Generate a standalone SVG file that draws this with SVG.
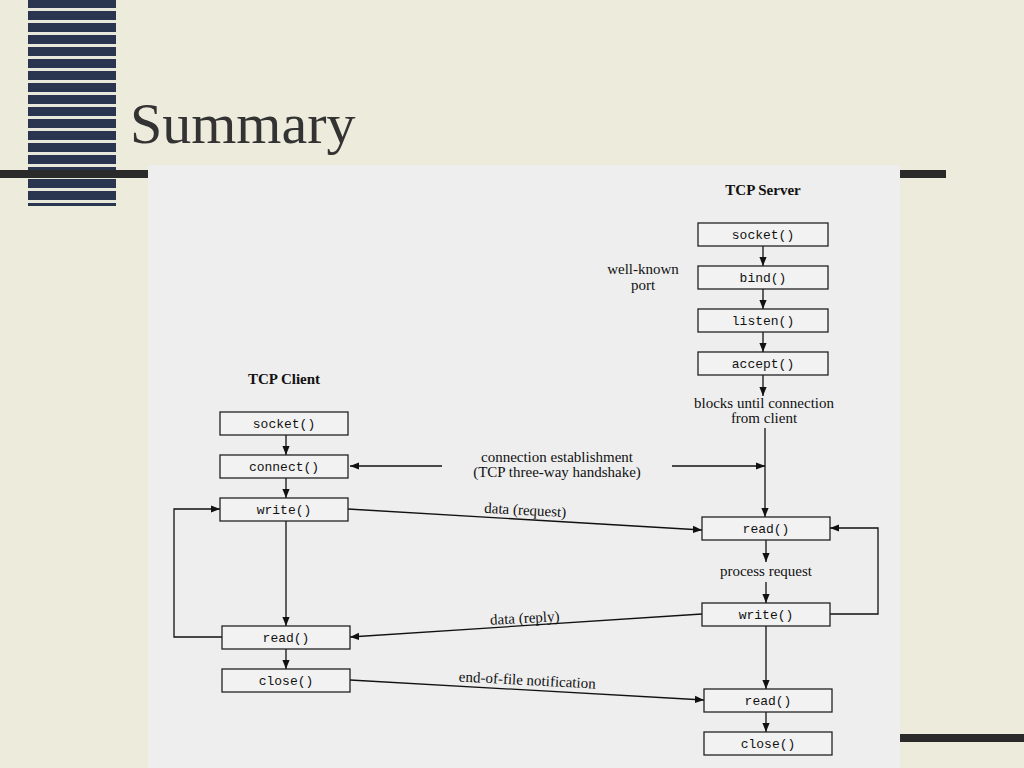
<svg xmlns="http://www.w3.org/2000/svg" width="1024" height="768" viewBox="0 0 1024 768">
<defs>
<marker id="ah" viewBox="0 0 10 10" refX="10" refY="5" markerWidth="7" markerHeight="7" orient="auto-start-reverse"><path d="M0,1 L10,5 L0,9 z" fill="#111"/></marker>
<pattern id="stripes" width="88" height="12" patternUnits="userSpaceOnUse"><rect width="88" height="12" fill="#2a3550"/><rect y="8" width="88" height="3" fill="#e8e8dc"/></pattern>
</defs>
<style>
.box{fill:#f2f2f2;stroke:#222;stroke-width:1.3}
.code{font-family:"Liberation Mono",monospace;font-size:13px;fill:#111;text-anchor:middle}
.lbl{font-family:"Liberation Serif",serif;font-size:15px;fill:#111;text-anchor:middle}
.ln{stroke:#111;stroke-width:1.3;fill:none}
</style>
<rect width="1024" height="768" fill="#ecebdc"/>
<rect x="28" y="0" width="88" height="206" fill="url(#stripes)"/>
<rect x="0" y="170" width="150" height="8" fill="#2a2a2a"/>
<rect x="900" y="170" width="46" height="8" fill="#2a2a2a"/>
<rect x="900" y="734" width="124" height="8" fill="#2a2a2a"/>
<rect x="148" y="165" width="752" height="603" fill="#eeeeee"/>
<text x="130" y="143" font-family="Liberation Serif,serif" font-size="58" fill="#333">Summary</text>
<text x="763" y="195" class="lbl" font-weight="bold" font-size="17">TCP Server</text>
<text x="284" y="384" class="lbl" font-weight="bold" font-size="17">TCP Client</text>
<text x="643" y="274" class="lbl">well-known</text>
<text x="643" y="290" class="lbl">port</text>
<text x="764" y="408" class="lbl">blocks until connection</text>
<text x="764" y="423" class="lbl">from client</text>
<text x="557" y="462" class="lbl">connection establishment</text>
<text x="557" y="477" class="lbl">(TCP three-way handshake)</text>
<text x="525" y="515" class="lbl" transform="rotate(3 525 515)">data (request)</text>
<text x="766" y="576" class="lbl">process request</text>
<text x="525" y="623" class="lbl" transform="rotate(-3 525 623)">data (reply)</text>
<text x="527" y="685" class="lbl" transform="rotate(3 527 685)">end-of-file notification</text>
<g id="connectors">
<line class="ln" x1="763" y1="246" x2="763" y2="266" marker-end="url(#ah)"/>
<line class="ln" x1="763" y1="289" x2="763" y2="309" marker-end="url(#ah)"/>
<line class="ln" x1="763" y1="332" x2="763" y2="352" marker-end="url(#ah)"/>
<line class="ln" x1="763" y1="375" x2="763" y2="396" marker-end="url(#ah)"/>
<line class="ln" x1="765" y1="428" x2="765" y2="517" marker-end="url(#ah)"/>
<line class="ln" x1="350" y1="466" x2="442" y2="466" marker-start="url(#ah)"/>
<line class="ln" x1="672" y1="466" x2="765" y2="466" marker-end="url(#ah)"/>
<line class="ln" x1="286" y1="435" x2="286" y2="455" marker-end="url(#ah)"/>
<line class="ln" x1="286" y1="478" x2="286" y2="498" marker-end="url(#ah)"/>
<line class="ln" x1="286" y1="521" x2="286" y2="626" marker-end="url(#ah)"/>
<line class="ln" x1="286" y1="649" x2="286" y2="669" marker-end="url(#ah)"/>
<polyline class="ln" points="222,637 174,637 174,509 220,509" marker-end="url(#ah)"/>
<line class="ln" x1="348" y1="509" x2="702" y2="530" marker-end="url(#ah)"/>
<line class="ln" x1="766" y1="540" x2="766" y2="562" marker-end="url(#ah)"/>
<line class="ln" x1="766" y1="582" x2="766" y2="603" marker-end="url(#ah)"/>
<polyline class="ln" points="830,614 878,614 878,528 830,528" marker-end="url(#ah)"/>
<line class="ln" x1="702" y1="614" x2="350" y2="637" marker-end="url(#ah)"/>
<line class="ln" x1="766" y1="626" x2="766" y2="689" marker-end="url(#ah)"/>
<line class="ln" x1="350" y1="680" x2="704" y2="700" marker-end="url(#ah)"/>
<line class="ln" x1="766" y1="712" x2="766" y2="732" marker-end="url(#ah)"/>
</g>
<g id="s_socket"><rect class="box" x="698" y="223" width="130" height="23"/><text class="code" x="763" y="239">socket()</text></g>
<g id="s_bind"><rect class="box" x="698" y="266" width="130" height="23"/><text class="code" x="763" y="282">bind()</text></g>
<g id="s_listen"><rect class="box" x="698" y="309" width="130" height="23"/><text class="code" x="763" y="325">listen()</text></g>
<g id="s_accept"><rect class="box" x="698" y="352" width="130" height="23"/><text class="code" x="763" y="368">accept()</text></g>
<g id="c_socket"><rect class="box" x="220" y="412" width="128" height="23"/><text class="code" x="284" y="428">socket()</text></g>
<g id="c_connect"><rect class="box" x="220" y="455" width="128" height="23"/><text class="code" x="284" y="471">connect()</text></g>
<g id="c_write"><rect class="box" x="220" y="498" width="128" height="23"/><text class="code" x="284" y="514">write()</text></g>
<g id="c_read"><rect class="box" x="222" y="626" width="128" height="23"/><text class="code" x="286" y="642">read()</text></g>
<g id="c_close"><rect class="box" x="222" y="669" width="128" height="23"/><text class="code" x="286" y="685">close()</text></g>
<g id="s_read"><rect class="box" x="702" y="517" width="128" height="23"/><text class="code" x="766" y="533">read()</text></g>
<g id="s_write"><rect class="box" x="702" y="603" width="128" height="23"/><text class="code" x="766" y="619">write()</text></g>
<g id="s_read2"><rect class="box" x="704" y="689" width="128" height="23"/><text class="code" x="768" y="705">read()</text></g>
<g id="s_close"><rect class="box" x="704" y="732" width="128" height="23"/><text class="code" x="768" y="748">close()</text></g>
</svg>
